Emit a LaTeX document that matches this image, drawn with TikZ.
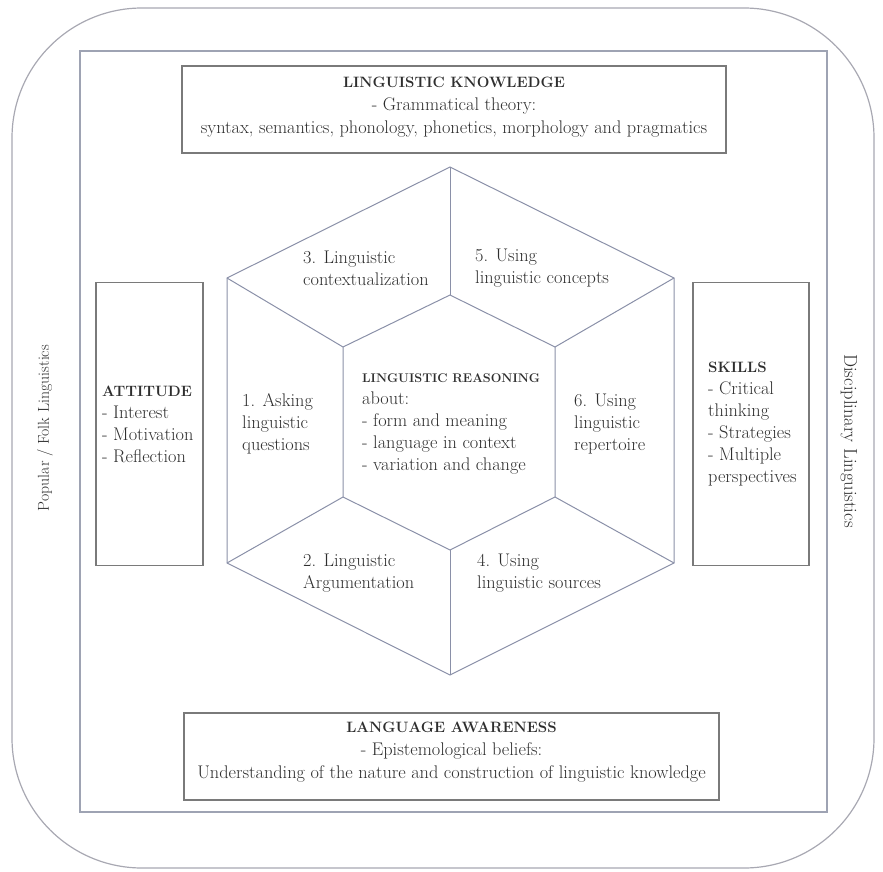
\documentclass[tikz,border=0pt]{standalone}
\usepackage{fontspec}
\definecolor{outerc}{HTML}{A8A8B2}
\definecolor{framec}{HTML}{9EA3B3}
\definecolor{boxc}{HTML}{7A7A7A}
\definecolor{hexc}{HTML}{8A90A8}
\definecolor{textc}{HTML}{2E2E2E}
\newcommand\myhead[1]{{\bfseries\fontsize{15}{22}\selectfont #1}}
\newcommand\mysmallhead[1]{{\bfseries\fontsize{12.6}{22}\selectfont #1}}
\begin{document}
\begin{tikzpicture}[x=1pt,y=-1pt,
  txt/.style={font=\fontsize{18.3}{22}\selectfont, text=textc, inner sep=0pt, align=left, anchor=west},
  ctxt/.style={font=\fontsize{18.3}{23}\selectfont, text=textc, inner sep=0pt, align=center},
  boxx/.style={draw=boxc, line width=1.4pt, inner sep=0pt},
  hexl/.style={draw=hexc, line width=1pt, line join=miter}]
\useasboundingbox (0,0) rectangle (883,872);
% outer rounded frame and inner frame
\draw[outerc, line width=1.2pt, rounded corners=130pt] (12,8) rectangle (874,868);
\draw[framec, line width=1.5pt] (80,51) rectangle (827,812);
% boxes
\node[boxx, minimum width=544pt, minimum height=87pt] (know) at (454,109.5) {};
\node[boxx, minimum width=535pt, minimum height=87pt] (aware) at (451.5,756.5) {};
\node[boxx, minimum width=107pt, minimum height=283pt] (att) at (149.5,424) {};
\node[boxx, minimum width=116pt, minimum height=283pt] (skl) at (751,424) {};
% box texts
\node[ctxt] (knowt) at (454,107) {\myhead{LINGUISTIC KNOWLEDGE}\\- Grammatical theory:\\syntax, semantics, phonology, phonetics, morphology and pragmatics};
\node[ctxt] (awaret) at (451.5,752) {\myhead{LANGUAGE AWARENESS}\\- Epistemological beliefs:\\Understanding of the nature and construction of linguistic knowledge};
\node[txt] (attt) at (102,424) {\myhead{ATTITUDE}\\- Interest\\- Motivation\\- Reflection};
\node[txt] (sklt) at (708,424) {\myhead{SKILLS}\\- Critical\\thinking\\- Strategies\\- Multiple\\perspectives};
% side labels
\node[font=\fontsize{15.8}{19}\selectfont, text=textc, inner sep=0pt, rotate=90] (folk) at (45,428) {Popular / Folk Linguistics};
\node[font=\fontsize{18.5}{22}\selectfont, text=textc, inner sep=0pt, rotate=-90] (disc) at (849,441) {Disciplinary Linguistics};
% hexagon
\coordinate (oT) at (450,167);
\coordinate (oUL) at (227,278);
\coordinate (oUR) at (674,278);
\coordinate (oLL) at (227,563);
\coordinate (oLR) at (674,563);
\coordinate (oB) at (450,675);
\coordinate (iT) at (450,295);
\coordinate (iUL) at (343,347);
\coordinate (iUR) at (555,347);
\coordinate (iLL) at (343,497);
\coordinate (iLR) at (555,497);
\coordinate (iB) at (450,550);
\draw[hexl] (oT) -- (oUR) -- (oLR) -- (oB) -- (oLL) -- (oUL) -- cycle;
\draw[hexl] (iT) -- (iUR) -- (iLR) -- (iB) -- (iLL) -- (iUL) -- cycle;
\draw[hexl] (oT) -- (iT);
\draw[hexl] (oUR) -- (iUR);
\draw[hexl] (oLR) -- (iLR);
\draw[hexl] (oB) -- (iB);
\draw[hexl] (oLL) -- (iLL);
\draw[hexl] (oUL) -- (iUL);
% hexagon texts
\node[txt] (h3) at (303,268) {3. Linguistic\\contextualization};
\node[txt] (h5) at (475,268) {5. Using\\linguistic concepts};
\node[txt] (h1) at (242,424) {1. Asking\\linguistic\\questions};
\node[txt] (hc) at (362,423.5) {\mysmallhead{LINGUISTIC REASONING}\\about:\\- form and meaning\\- language in context\\- variation and change};
\node[txt] (h6) at (574,424) {6. Using\\linguistic\\repertoire};
\node[txt] (h2) at (303,573) {2. Linguistic\\Argumentation};
\node[txt] (h4) at (477,573) {4. Using\\linguistic sources};
\end{tikzpicture}
\end{document}
